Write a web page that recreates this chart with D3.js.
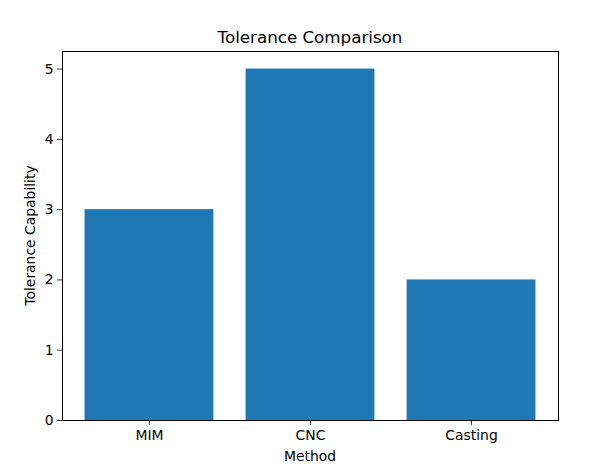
<!DOCTYPE html>
<html>
<head>
<meta charset="utf-8">
<script src="https://cdn.jsdelivr.net/npm/d3@7"></script>
<style>
  body { margin: 0; background: #fff; }
  text { font-family: "DejaVu Sans", sans-serif; fill: #000; }
</style>
</head>
<body>
<div id="chart"></div>
<script>
// Donnees du graphique
const methods = ["MIM", "CNC", "Casting"];
const tolerance = [3, 5, 2];
const yTicks = [0, 1, 2, 3, 4, 5];

const W = 614, H = 468;
const margin = {top: 51, right: 56, bottom: 48, left: 62},
    width = W - margin.left - margin.right,
    height = H - margin.top - margin.bottom;

const svg = d3.select("#chart")
    .append("svg")
    .attr("width", W)
    .attr("height", H);

const g = svg.append("g")
    .attr("transform", `translate(${margin.left},${margin.top})`);

// Axe X : positions 0..n-1, barres de largeur 0.8, marges de 5%
const barW = 0.8;
const lo = -barW / 2, hi = methods.length - 1 + barW / 2;
const pad = (hi - lo) * 0.05;
const x = d3.scaleLinear()
    .domain([lo - pad, hi + pad])
    .range([0, width]);

// Axe Y
const y = d3.scaleLinear()
    .domain([0, d3.max(tolerance) * 1.05])
    .range([height, 0]);

// Barres
g.selectAll("rect.bar")
    .data(tolerance)
    .join("rect")
    .attr("class", "bar")
    .attr("x", (d, i) => x(i - barW / 2))
    .attr("width", (d, i) => x(i + barW / 2) - x(i - barW / 2))
    .attr("y", d => y(d))
    .attr("height", d => height - y(d))
    .style("fill", "#1f77b4");

// Axes
const xAxis = g.append("g")
    .attr("transform", `translate(0,${height})`)
    .call(d3.axisBottom(x)
        .tickValues(d3.range(methods.length))
        .tickFormat(i => methods[i])
        .tickSize(4.9)
        .tickPadding(5));

const yAxis = g.append("g")
    .call(d3.axisLeft(y)
        .tickValues(yTicks)
        .tickFormat(d3.format("d"))
        .tickSize(4.9)
        .tickPadding(3.5));

[xAxis, yAxis].forEach(a => {
    a.select(".domain").remove();
    a.selectAll("line").attr("stroke", "#000").attr("stroke-width", 0.8);
    a.selectAll("text").style("font-size", "13.9px").attr("fill", "#000");
});

// Cadre
g.append("rect")
    .attr("width", width)
    .attr("height", height)
    .attr("fill", "none")
    .attr("stroke", "#000")
    .attr("stroke-width", 1)
    .attr("shape-rendering", "crispEdges");

// Titres
svg.append("text")
    .attr("x", margin.left + width / 2)
    .attr("y", margin.top - 8)
    .attr("text-anchor", "middle")
    .style("font-size", "16.7px")
    .text("Tolerance Comparison");

svg.append("text")
    .attr("x", margin.left + width / 2)
    .attr("y", 461)
    .attr("text-anchor", "middle")
    .style("font-size", "13.9px")
    .text("Method");

svg.append("text")
    .attr("transform", `translate(35,${margin.top + height / 2}) rotate(-90)`)
    .attr("text-anchor", "middle")
    .style("font-size", "13.9px")
    .text("Tolerance Capability");
</script>
</body>
</html>
